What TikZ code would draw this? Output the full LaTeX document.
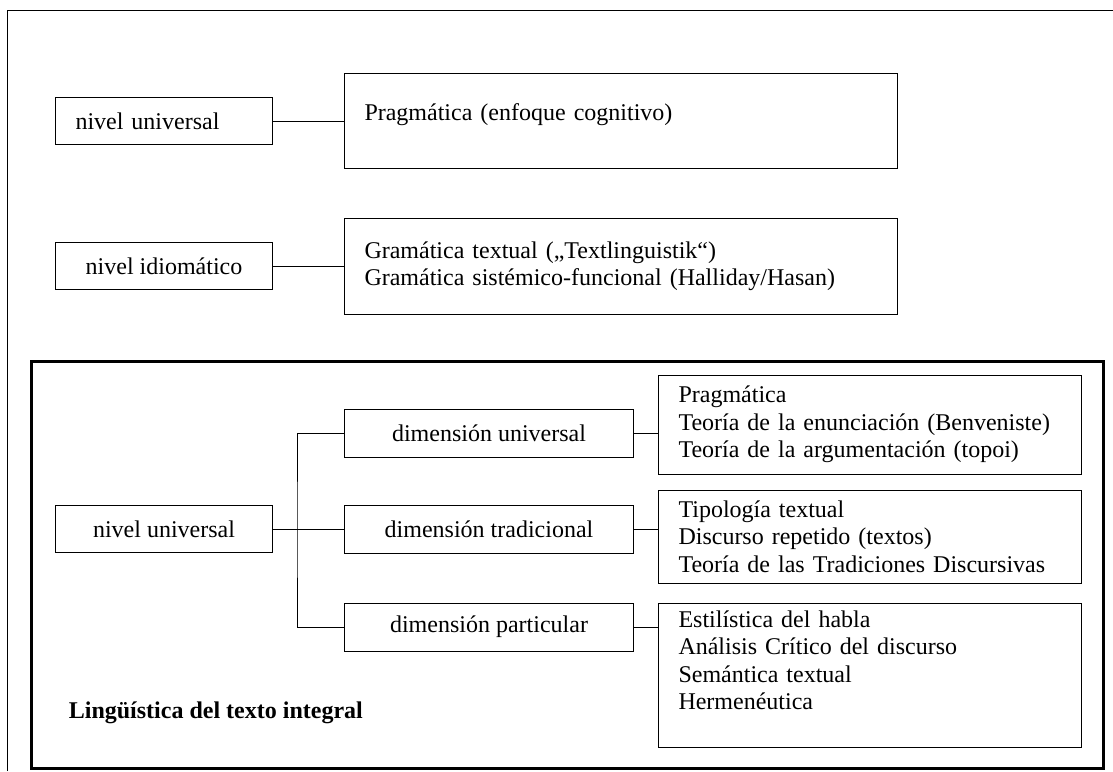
\documentclass[tikz,border=0pt]{standalone}
\usepackage{fontspec}
\setmainfont{Liberation Serif}
\usetikzlibrary{positioning}

\begin{document}
\begin{tikzpicture}[x=1pt, y=1pt, line width=1pt, node distance=71pt,
  font=\fontsize{24}{27.5}\selectfont,
  lvlbox/.style={draw, rectangle, minimum width=217pt, minimum height=47pt, align=center},
  dimbox/.style={draw, rectangle, minimum width=289pt, minimum height=48pt, align=center},
  fieldbox/.style={draw, rectangle, inner xsep=20pt, align=left}]
  \useasboundingbox (0,0) rectangle (1113,-771);
  \draw (7,-771) -- (7,-10) -- (1113,-10);

  \node[lvlbox, anchor=north west, text width=177pt, inner xsep=20pt, align=left] (univ) at (55,-97) {nivel universal};
  \node[fieldbox, text width=513pt, minimum height=95pt, text height=17pt, text depth=18pt, right=71pt of univ] (pragm) {Pragmática (enfoque cognitivo)};
  \node[lvlbox, below=97pt of univ] (idiom) {nivel idiomático};
  \node[fieldbox, text width=513pt, minimum height=96pt, right=71pt of idiom] (gramm) {Gramática textual („Textlinguistik“)\\Gramática sistémico-funcional (Halliday/Hasan)};

  % texto integral
  \draw[line width=3pt] (31,-361) rectangle (1103,-768);
  \node[lvlbox, below=215pt of idiom] (univb) {nivel universal};
  \node[dimbox, right=71pt of univb] (dimtrad) {dimensión tradicional};
  \node[dimbox, above=47pt of dimtrad] (dimuniv) {dimensión universal};
  \node[dimbox, below=49pt of dimtrad] (dimpart) {dimensión particular};
  \node[fieldbox, text width=383pt, minimum height=99pt, right=24pt of dimuniv, yshift=8.5pt] (campuniv) {Pragmática\\Teoría de la enunciación (Benveniste)\\Teoría de la argumentación (topoi)};
  \node[fieldbox, text width=383pt, minimum height=93pt, right=24pt of dimtrad, yshift=-7.5pt] (camptrad) {Tipología textual\\Discurso repetido (textos)\\Teoría de las Tradiciones Discursivas};
  \node[fieldbox, text width=383pt, text height=17pt, text depth=113pt, inner ysep=7pt, anchor=north west] (camppart) at ([xshift=24pt]dimpart.north east) {Estilística del habla\\Análisis Crítico del discurso\\Semántica textual\\Hermenéutica};
  \node[font=\fontsize{24}{27.5}\selectfont\bfseries, anchor=base west] (titulo) at (65,-718) {Lingüística del texto integral};

  \coordinate[right=24pt of univb] (fork);
  \draw (univ) -- (pragm);
  \draw (idiom) -- (gramm);
  \draw (univb) -- (dimtrad);
  \draw (dimuniv.west) -| (fork) |- (dimpart.west);
  \draw (dimuniv.east) -- (dimuniv.east -| campuniv.west);
  \draw (dimtrad.east) -- (dimtrad.east -| camptrad.west);
  \draw (dimpart.east) -- (dimpart.east -| camppart.west);
\end{tikzpicture}
\end{document}
